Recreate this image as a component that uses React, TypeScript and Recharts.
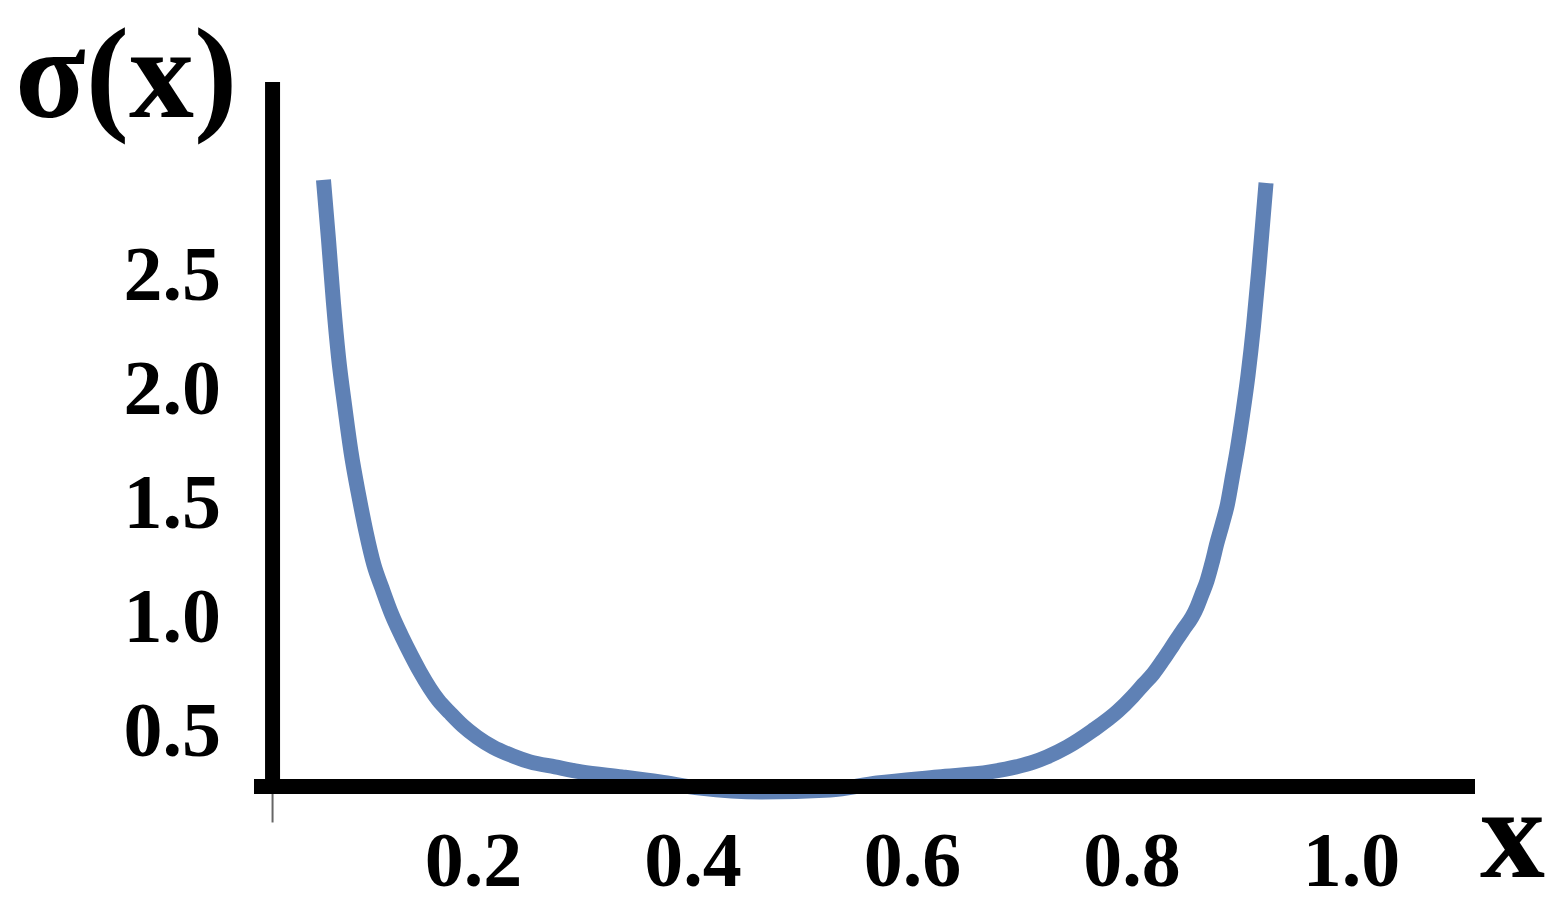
import { LineChart, Line, XAxis, YAxis, ReferenceLine, Customized } from 'recharts';

// sample points
const xValues = [
  0.0633, 0.0679, 0.0724, 0.077, 0.0825, 0.0884, 0.0957, 0.1021, 0.1093, 0.1166,
  0.1257, 0.1349, 0.1431, 0.1513, 0.1677, 0.1786, 0.1904, 0.2032, 0.2178, 0.236,
  0.2515, 0.2743, 0.298, 0.3353, 0.3699, 0.4064, 0.462, 0.5248, 0.5677, 0.6232,
  0.6706, 0.6943, 0.7107, 0.7226, 0.7408, 0.7636, 0.7872, 0.8009, 0.81, 0.8191,
  0.8282, 0.8374, 0.8465, 0.8547, 0.8592, 0.8638, 0.8683, 0.8729, 0.8774, 0.882,
  0.887, 0.8916, 0.8961, 0.9007, 0.9057, 0.9107, 0.9153, 0.9198, 0.9221,
];
const sigmaValues = [
  2.895, 2.632, 2.355, 2.118, 1.907, 1.701, 1.504, 1.35, 1.205, 1.104,
  0.986, 0.889, 0.81, 0.736, 0.613, 0.556, 0.499, 0.45, 0.406, 0.367,
  0.341, 0.319, 0.297, 0.275, 0.253, 0.226, 0.209, 0.218, 0.248, 0.275,
  0.297, 0.319, 0.341, 0.363, 0.406, 0.477, 0.564, 0.63, 0.679, 0.727,
  0.788, 0.854, 0.92, 0.977, 1.021, 1.078, 1.135, 1.214, 1.302, 1.381,
  1.473, 1.596, 1.719, 1.864, 2.039, 2.254, 2.491, 2.75, 2.882,
];
const xTicks = [0.2, 0.4, 0.6, 0.8, 1.0];
const yTicks = [0.5, 1.0, 1.5, 2.0, 2.5];

// where the drawn axes cross
const axisCrossX = 0.0169;
const axisCrossY = 0.233;

const curve = xValues.map((x, i) => ({ x, sigma: sigmaValues[i] }));

const serif = "'Liberation Serif', 'Times New Roman', serif";

const XTick = ({ x, y, payload }: any) => (
  <text x={x} y={y + 92} textAnchor="middle" fontFamily={serif} fontWeight="bold" fontSize={78} fill="#000">
    {Number(payload.value).toFixed(1)}
  </text>
);

const YTick = ({ x, y, payload }: any) => (
  <text x={x} y={y + 30} textAnchor="end" fontFamily={serif} fontWeight="bold" fontSize={78} fill="#000">
    {Number(payload.value).toFixed(1)}
  </text>
);

const AxisTitles = () => (
  <g fontFamily={serif} fontWeight="bold" fill="#000">
    <text x={15} y={117} fontSize={130}>σ(x)</text>
    <text x={1480} y={877} fontSize={130}>x</text>
  </g>
);

export default function App() {
  return (
    <div style={{ position: 'fixed', left: 0, top: 0, width: 1567, height: 911, background: '#fff' }}>
      <LineChart width={1567} height={911} data={curve} margin={{ top: 82, right: 92, bottom: 0, left: 0 }}>
        <XAxis
          type="number"
          dataKey="x"
          domain={[0, 1.1125]}
          ticks={xTicks}
          interval={0}
          axisLine={false}
          tickLine={false}
          tickSize={0}
          tickMargin={0}
          height={117}
          tick={<XTick />}
        />
        <YAxis
          type="number"
          domain={[0.2, 3.325]}
          ticks={yTicks}
          interval={0}
          axisLine={false}
          tickLine={false}
          tickSize={0}
          tickMargin={33}
          width={254}
          tick={<YTick />}
        />
        <Line
          type="monotone"
          dataKey="sigma"
          stroke="#5F81B5"
          strokeWidth={15}
          dot={false}
          activeDot={false}
          isAnimationActive={false}
        />
        <ReferenceLine y={axisCrossY} stroke="#000" strokeWidth={15} />
        <ReferenceLine x={axisCrossX} stroke="#000" strokeWidth={15} />
        <ReferenceLine
          segment={[{ x: axisCrossX, y: 0.2 }, { x: axisCrossX, y: 0.075 }]}
          ifOverflow="visible"
          stroke="#666"
          strokeWidth={2}
        />
        <Customized component={AxisTitles} />
      </LineChart>
    </div>
  );
}
